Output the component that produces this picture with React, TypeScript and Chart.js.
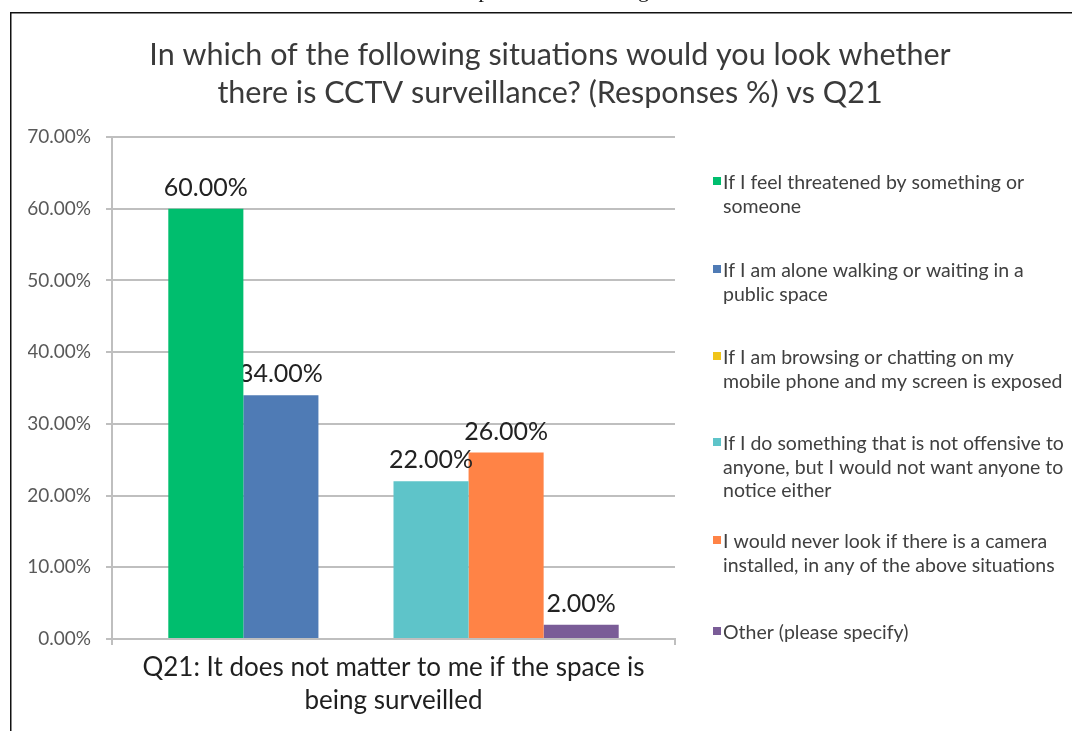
import React, { useEffect, useRef } from "react";
import { Chart, registerables } from "chart.js";

Chart.register(...registerables);

// ---------- data ----------
const categories = [["Q21: It does not matter to me if the space is", "being surveilled"]];

const seriesNames = [
  "If I feel threatened by something or someone",
  "If I am alone walking or waiting in a public space",
  "If I am browsing or chatting on my mobile phone and my screen is exposed",
  "If I do something that is not offensive to anyone, but I would not want anyone to notice either",
  "I would never look if there is a camera installed, in any of the above situations",
  "Other (please specify)",
];

const legendLines = [
  ["If I feel threatened by something or", "someone"],
  ["If I am alone walking or waiting in a", "public space"],
  ["If I am browsing or chatting on my", "mobile phone and my screen is exposed"],
  ["If I do something that is not offensive to", "anyone, but I would not want anyone to", "notice either"],
  ["I would never look if there is a camera", "installed, in any of the above situations"],
  ["Other (please specify)"],
];

const seriesValues = [60, 34, 0, 22, 26, 2];

const seriesColors = ["#00BE6E", "#4F7BB5", "#F0C419", "#5EC4C9", "#FF8346", "#7A5C97"];

const yMin = 0;
const yMax = 70;
const yStep = 10;

const titleLines = [
  "In which of the following situations would you look whether",
  "there is CCTV surveillance? (Responses %) vs Q21",
];

const captionPieces = [
  "Q21: It does not matter to me if the",
  "space is",
  "being surveilled",
  "Q",
];

// ---------- layout / style constants ----------
const W = 1072;
const H = 731;
const PLOT_LEFT = 112;
const PLOT_RIGHT = 675;
const PLOT_BOTTOM = 639;
const LEFT_PAD = 28;
const LEGEND_SQUARE_X = 713;
const LEGEND_TEXT_X = 723;
const LEGEND_LINE_H = 23.5;
const LEGEND_BASELINES = [189, 277, 364, 450, 548, 639];
const CAPTION_X = [4, 470, 600, 825];
const FONT = "Lato, 'Open Sans', sans-serif";

const framePlugin = {
  id: "frameAndCaption",
  beforeDraw(chart: any) {
    const ctx = chart.ctx;
    ctx.save();
    ctx.fillStyle = "#ffffff";
    ctx.fillRect(0, 0, W, H);
    ctx.fillStyle = "#111111";
    ctx.fillRect(10, 12, W - 10, 1.5);
    ctx.fillRect(10, 12, 1.5, H - 12);
    ctx.font = "22px 'Liberation Serif', 'DejaVu Serif', serif";
    ctx.textBaseline = "alphabetic";
    ctx.textAlign = "left";
    captionPieces.forEach((t, i) => ctx.fillText(t, CAPTION_X[i], -3));
    ctx.restore();
  },
};

const valueLabelPlugin = {
  id: "valueLabels",
  afterDatasetDraw(chart: any, args: any) {
    const ctx = chart.ctx;
    const ds = chart.data.datasets[args.index];
    args.meta.data.forEach((el: any, i: number) => {
      const v = ds.data[i];
      if (!v) return;
      ctx.save();
      ctx.font = `25px ${FONT}`;
      ctx.fillStyle = "#222222";
      ctx.textAlign = "center";
      ctx.textBaseline = "alphabetic";
      ctx.fillText(`${v.toFixed(2)}%`, el.x, el.y - 13);
      ctx.restore();
    });
  },
};

const sideLegendPlugin = {
  id: "sideLegend",
  afterDraw(chart: any) {
    const ctx = chart.ctx;
    ctx.save();
    ctx.font = `19.5px ${FONT}`;
    ctx.textAlign = "left";
    ctx.textBaseline = "alphabetic";
    chart.data.datasets.forEach((ds: any, i: number) => {
      const base = LEGEND_BASELINES[i];
      ctx.fillStyle = ds.backgroundColor;
      ctx.fillRect(LEGEND_SQUARE_X, base - 12, 8, 8);
      ctx.fillStyle = "#404040";
      legendLines[i].forEach((line, j) => {
        ctx.fillText(line, LEGEND_TEXT_X, base + j * LEGEND_LINE_H);
      });
    });
    ctx.restore();
  },
};

export default function App() {
  const ref = useRef<HTMLCanvasElement | null>(null);

  useEffect(() => {
    document.body.style.margin = "0";
    const canvas = ref.current;
    if (!canvas) return;
    const chart = new Chart(canvas, {
      type: "bar",
      data: {
        labels: categories as any,
        datasets: seriesNames.map((name, i) => ({
          label: name,
          data: [seriesValues[i]],
          backgroundColor: seriesColors[i],
          borderWidth: 0,
          categoryPercentage: 0.8,
          barPercentage: 1,
        })),
      },
      options: {
        responsive: false,
        animation: false,
        devicePixelRatio: 1,
        layout: { padding: { left: LEFT_PAD, right: 0, top: 0, bottom: 0 } },
        plugins: {
          legend: { display: false },
          tooltip: { enabled: false },
          title: {
            display: true,
            text: titleLines,
            color: "#3a3a3a",
            font: { family: FONT, size: 30.5, weight: "normal", lineHeight: 38 / 30.5 },
            padding: { top: 36, bottom: 25 },
          },
        },
        scales: {
          x: {
            grid: {
              display: true,
              drawOnChartArea: false,
              drawTicks: true,
              tickLength: 6,
              offset: true,
              color: "#BFBFBF",
              lineWidth: 2,
            },
            border: { display: true, color: "#BFBFBF", width: 2 },
            ticks: {
              color: "#1f1f1f",
              font: { family: FONT, size: 26, lineHeight: 33 / 26 },
              padding: 6,
              maxRotation: 0,
              autoSkip: false,
            },
            afterFit: (s: any) => {
              s.height = H - PLOT_BOTTOM;
            },
          },
          y: {
            min: yMin,
            max: yMax,
            ticks: {
              stepSize: yStep,
              color: "#595959",
              font: { family: FONT, size: 19 },
              padding: 15,
              callback: (v: any) => `${Number(v).toFixed(2)}%`,
            },
            grid: { color: "#BFBFBF", lineWidth: 2, tickLength: 6 },
            border: { display: true, color: "#BFBFBF", width: 2 },
            afterFit: (s: any) => {
              s.width = PLOT_LEFT - LEFT_PAD;
            },
          },
          legendSpace: {
            type: "linear",
            position: "right",
            display: true,
            min: 0,
            max: 1,
            grid: { display: false },
            ticks: { display: false },
            border: { display: false },
            afterFit: (s: any) => {
              s.width = W - PLOT_RIGHT;
            },
          },
        },
      } as any,
      plugins: [framePlugin, valueLabelPlugin, sideLegendPlugin],
    });
    return () => chart.destroy();
  }, []);

  return (
    <div style={{ width: W, height: H, overflow: "hidden", position: "relative" }}>
      <canvas ref={ref} width={W} height={H} style={{ display: "block", width: W, height: H }} />
    </div>
  );
}
